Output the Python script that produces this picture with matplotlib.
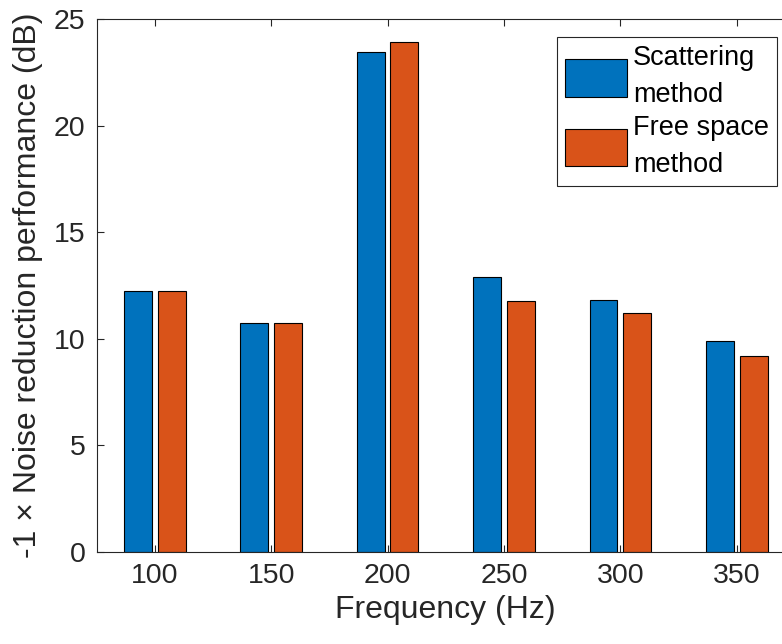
import matplotlib
matplotlib.use("Agg")
import matplotlib.pyplot as plt
import numpy as np

categories = ["100", "150", "200", "250", "300", "350"]
scattering = [12.23, 10.72, 23.47, 12.92, 11.84, 9.92]
free_space = [12.23, 10.72, 23.90, 11.76, 11.22, 9.19]
series_names = ["Scattering\nmethod", "Free space\nmethod"]
yticks = [0, 5, 10, 15, 20, 25]

plt.rcParams['font.family'] = ['Liberation Sans', 'DejaVu Sans']

W, H = 782, 644
fig = plt.figure(figsize=(W / 100, H / 100), dpi=100)
ax = fig.add_axes([96.5 / W, (H - 552) / H, (795 - 96.5) / W, (552 - 19) / H])

x = np.arange(1, len(categories) + 1)
bw = 0.24
off = 0.145
c1, c2 = "#0072BD", "#D95319"
ax.bar(x - off, scattering, bw, color=c1, edgecolor="black", linewidth=0.8, label=series_names[0])
ax.bar(x + off, free_space, bw, color=c2, edgecolor="black", linewidth=0.8, label=series_names[1])

ax.set_xlim(0.5, 6.5)
ax.set_ylim(0, 25)
ax.set_xticks(x)
ax.set_xticklabels(categories)
ax.set_yticks(yticks)
ax.tick_params(axis="both", direction="in", top=True, right=True, labelsize=20.5,
               colors="#262626", length=5, width=0.8, pad=8)
for s in ax.spines.values():
    s.set_color("#262626")
    s.set_linewidth(0.8)

ax.set_xlabel("Frequency (Hz)", fontsize=23, color="#262626", labelpad=4)
ax.set_ylabel("-1 \u00d7 Noise reduction performance (dB)", fontsize=23, color="#262626", labelpad=8)

leg = ax.legend(loc="upper right", bbox_to_anchor=(777 / W, 1 - 37 / H),
                bbox_transform=fig.transFigure, borderaxespad=0, fontsize=19.5,
                fancybox=False, framealpha=1, edgecolor="#262626",
                handlelength=2.3, handleheight=1.75, handletextpad=0.2,
                labelspacing=0.25, borderpad=0.3)
leg.get_frame().set_linewidth(0.8)
for t in leg.get_texts():
    t.set_linespacing(1.55)

fig.savefig("out.png", dpi=100)
